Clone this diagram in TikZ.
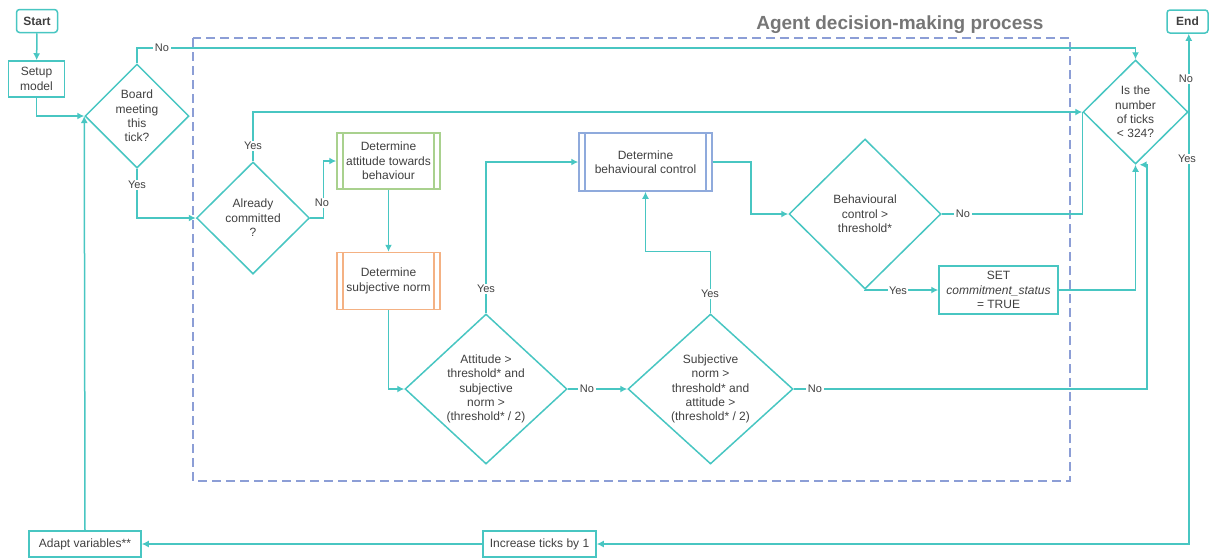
\documentclass[tikz,border=0pt]{standalone}
\usepackage{fontspec}
\setmainfont{Liberation Sans}
\usetikzlibrary{arrows.meta,shapes.geometric}
\definecolor{flow}{RGB}{72,198,194}
\definecolor{txt}{RGB}{64,64,64}
\definecolor{ttl}{RGB}{118,118,118}
\definecolor{frame}{RGB}{140,158,214}
\definecolor{attgreen}{RGB}{169,209,142}
\definecolor{normorange}{RGB}{244,177,131}
\definecolor{ctrlblue}{RGB}{143,170,220}
\begin{document}
\begin{tikzpicture}[x=1pt,y=-1pt,
  font=\fontsize{12}{14.4}\selectfont, text=txt,
  every node/.style={align=center},
  box/.style={draw=flow, line width=1.5pt, inner sep=1pt},
  term/.style={box, rounded corners=3pt, font=\fontsize{12}{14.4}\selectfont\bfseries},
  dec/.style={draw=flow, line width=1.5pt, diamond, inner sep=0pt},
  predef/.style={draw=#1, line width=1.5pt, inner sep=1pt,
    path picture={
      \draw[#1, line width=1.5pt]
        ([xshift=6pt]path picture bounding box.north west) -- ([xshift=6pt]path picture bounding box.south west)
        ([xshift=-6pt]path picture bounding box.north east) -- ([xshift=-6pt]path picture bounding box.south east);}},
  link/.style={draw=flow, line width=1.5pt},
  arr/.style={link, -{Latex[length=7pt,width=7pt]}},
  lbl/.style={fill=white, inner sep=1.5pt, font=\fontsize{11}{13}\selectfont}]
\useasboundingbox (0,0) rectangle (1209,558);

% process frame and its title
\draw[frame, line width=1.3pt, dash pattern=on 9pt off 5pt] (193,38) rectangle (1070,481);
\node[anchor=base east, text=ttl, font=\fontsize{19}{22}\selectfont\bfseries] (title) at (1047,29) {Agent decision-making process};

% nodes
\node[term, minimum width=41pt, minimum height=23pt] (start) at (37,21) {Start};
\node[box, minimum width=56pt, minimum height=36pt] (setup) at (36.5,79) {Setup\\model};
\node[dec, minimum width=104pt, minimum height=104pt] (board) at (137,116) {Board\\meeting\\this\\tick?};
\node[dec, minimum width=113pt, minimum height=112pt] (already) at (253,218) {Already\\committed\\?};
\node[predef=attgreen, minimum width=103pt, minimum height=56pt] (attbox) at (388.5,161) {Determine\\attitude towards\\behaviour};
\node[predef=normorange, minimum width=103pt, minimum height=57pt] (normbox) at (388.5,281) {Determine\\subjective norm};
\node[predef=ctrlblue, minimum width=133pt, minimum height=58pt] (ctrlbox) at (645.5,162) {Determine\\behavioural control};
\node[dec, minimum width=162pt, minimum height=150pt] (attdia) at (486,389) {Attitude >\\threshold* and\\subjective\\norm >\\(threshold* / 2)};
\node[dec, minimum width=165pt, minimum height=150pt] (normdia) at (710.5,389) {Subjective\\norm >\\threshold* and\\attitude >\\(threshold* / 2)};
\node[dec, minimum width=152pt, minimum height=150pt] (ctrldia) at (865,214) {Behavioural\\control >\\threshold*};
\node[box, minimum width=119pt, minimum height=48pt] (set) at (998.5,290) {SET\\\textit{commitment\_status}\\= TRUE};
\node[dec, minimum width=105pt, minimum height=104pt] (ticks) at (1135.5,112) {Is the\\number\\of ticks\\< 324?};
\node[term, minimum width=41pt, minimum height=23pt] (end) at (1187.5,21.5) {End};
\node[box, minimum width=112pt, minimum height=26pt] (adapt) at (85,544) {Adapt variables**};
\node[box, minimum width=113pt, minimum height=26pt] (increase) at (539.5,544) {Increase ticks by 1};

% connectors
\draw[arr] (start) -- (setup);
\draw[arr] (setup.south) |- (board.west);
\draw[arr] (board.north) -- (137,48) -| (ticks.north);
\draw[arr] (board.south) |- (already.west);
\draw[arr] (adapt.north) -- (board.west);
\draw[arr] (already.north) |- (ticks.west);
\draw[arr] (already.east) -- ++(13,0) |- (attbox.west);
\draw[arr] (attbox) -- (normbox);
\draw[arr] (normbox.south) |- (attdia.west);
\draw[arr] (attdia.north) |- (ctrlbox.west);
\draw[arr] (attdia.east) -- (normdia.west);
\draw[arr] (normdia.north) -- ++(0,-62) -| (ctrlbox.south);
\draw[arr] (ctrlbox.east) -- ++(38,0) |- (ctrldia.west);
\draw[link] (ctrldia.east) -| (ticks.west);
\draw[arr] (ctrldia.south) |- (set.west);
\draw[arr] (set.east) -| (ticks.south);
\draw[arr] (normdia.east) -- (1147,389) |- ([xshift=4pt]ticks.south);
\draw[arr] (ticks.east) -- (ticks.east |- end.south);
\draw[arr] (ticks.east) |- (increase.east);
\draw[arr] (increase) -- (adapt);

% branch labels
\node[lbl] (l1) at (162,48) {No};
\node[lbl] (l2) at (137,185) {Yes};
\node[lbl] (l3) at (253,146) {Yes};
\node[lbl] (l4) at (322,203) {No};
\node[lbl] (l5) at (486,289) {Yes};
\node[lbl] (l6) at (587,389) {No};
\node[lbl] (l7) at (710,294) {Yes};
\node[lbl] (l8) at (815,389) {No};
\node[lbl] (l9) at (963,214) {No};
\node[lbl] (l10) at (898,291) {Yes};
\node[lbl] (l11) at (1186,79) {No};
\node[lbl] (l12) at (1187,159) {Yes};
\end{tikzpicture}
\end{document}
